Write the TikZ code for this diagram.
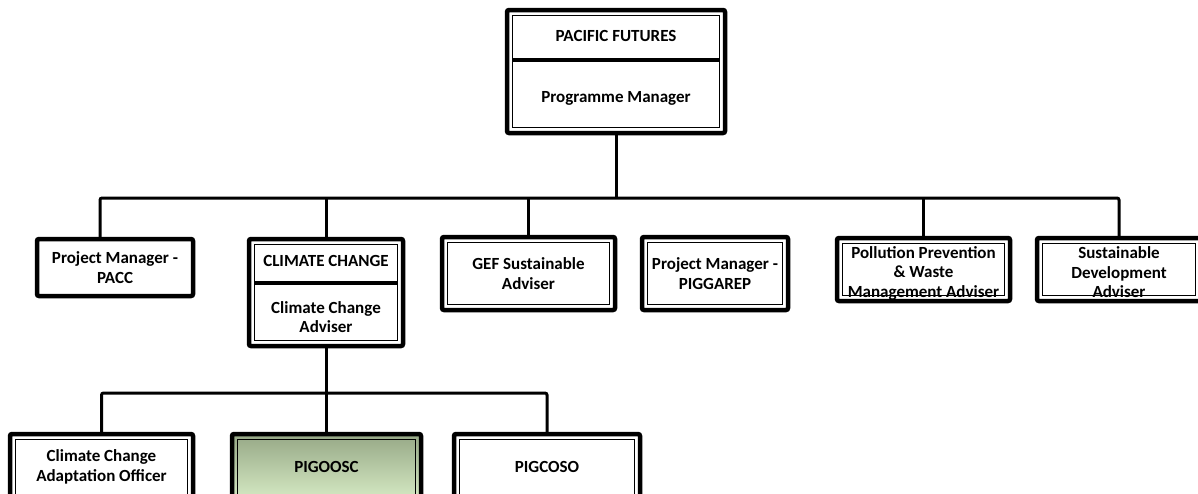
\documentclass[tikz,border=0pt]{standalone}
\usepackage{fontspec}
\setmainfont{Carlito}
\definecolor{gtop}{RGB}{150,168,134}
\definecolor{gbot}{RGB}{214,234,196}
\begin{document}
\begin{tikzpicture}[x=1pt,y=-1pt,
  box/.style={draw, line width=4.5pt, rounded corners=2pt, fill=white, anchor=north west,
    outer sep=0pt, inner sep=0pt, align=center,
    font=\bfseries\fontsize{17}{19.5}\selectfont},
  txt/.style={inner sep=0pt, align=center, font=\bfseries\fontsize{17}{19.5}\selectfont},
  inner/.style={draw, line width=1.5pt},
  divline/.style={line width=3.5pt},
  conn/.style={line width=3pt}]
\useasboundingbox (0,0) rectangle (1198,493);
\clip (0,0) rectangle (1198,493);
% level 1
\node[box, minimum width=218pt, minimum height=123pt] (top) at (507,10) {};
\node[txt] (pf) at (616,36) {PACIFIC FUTURES};
\node[txt] (pm) at (616,98) {Programme Manager};
\coordinate (topdiv) at (616,60);
% level 2
\node[box, minimum width=156pt, minimum height=57pt] (pacc) at (37,239) {Project Manager -\\PACC};
\node[box, minimum width=154pt, minimum height=107pt] (cc) at (249,239) {};
\node[txt] (cct) at (326,261) {CLIMATE CHANGE};
\node[txt] (cca) at (326,317) {Climate Change\\Adviser};
\coordinate (ccdiv) at (326,283);
\node[box, minimum width=173pt, minimum height=73pt] (gef) at (442,237) {GEF Sustainable\\Adviser};
\node[box, minimum width=146pt, minimum height=73pt] (pig) at (642,237) {Project Manager -\\PIGGAREP};
\node[box, minimum width=173pt, minimum height=63pt] (poll) at (837,238) {};
\node[txt] (pollt) at (923.5,273) {Pollution Prevention\\\& Waste\\Management Adviser};
\node[box, minimum width=164pt, minimum height=63pt] (sust) at (1037,238) {};
\node[txt] (sustt) at (1119,272.5) {Sustainable\\Development\\Adviser};
% level 3
\node[box, minimum width=183pt, minimum height=66pt] (ccao) at (10,434) {Climate Change\\Adaptation Officer};
\node[box, minimum width=189pt, minimum height=66pt, top color=gtop, bottom color=gbot] (pigo) at (232,434) {PIGOOSC};
\node[box, minimum width=186pt, minimum height=66pt] (pigc) at (454,434) {PIGCOSO};
% inner lines
\foreach \n in {top,cc,gef,pig,poll,sust,ccao,pigo,pigc}
  \draw[inner] ([xshift=5.5pt,yshift=-5.5pt]\n.north west) rectangle ([xshift=-5.5pt,yshift=5.5pt]\n.south east);
\draw[divline] ([xshift=5.5pt]topdiv -| top.west) -- ([xshift=-5.5pt]topdiv -| top.east);
\draw[divline] ([xshift=5.5pt]ccdiv -| cc.west) -- ([xshift=-5.5pt]ccdiv -| cc.east);
% connectors
\coordinate (bus) at (616,198);
\coordinate (bus2) at (326,393);
\draw[conn] (top.south) -- (top.south |- bus);
\draw[conn, rounded corners=2pt] ([xshift=-15pt]pacc.north) |- (bus -| sust.north) -- (sust.north);
\draw[conn] (cc.north) -- (cc.north |- bus);
\draw[conn] (gef.north) -- (gef.north |- bus);
\draw[conn] (poll.north) -- (poll.north |- bus);
\draw[conn] (cc.south) -- (cc.south |- bus2);
\draw[conn, rounded corners=2pt] (ccao.north) |- (bus2 -| pigc.north) -- (pigc.north);
\draw[conn] (pigo.north) -- (pigo.north |- bus2);
\end{tikzpicture}
\end{document}
